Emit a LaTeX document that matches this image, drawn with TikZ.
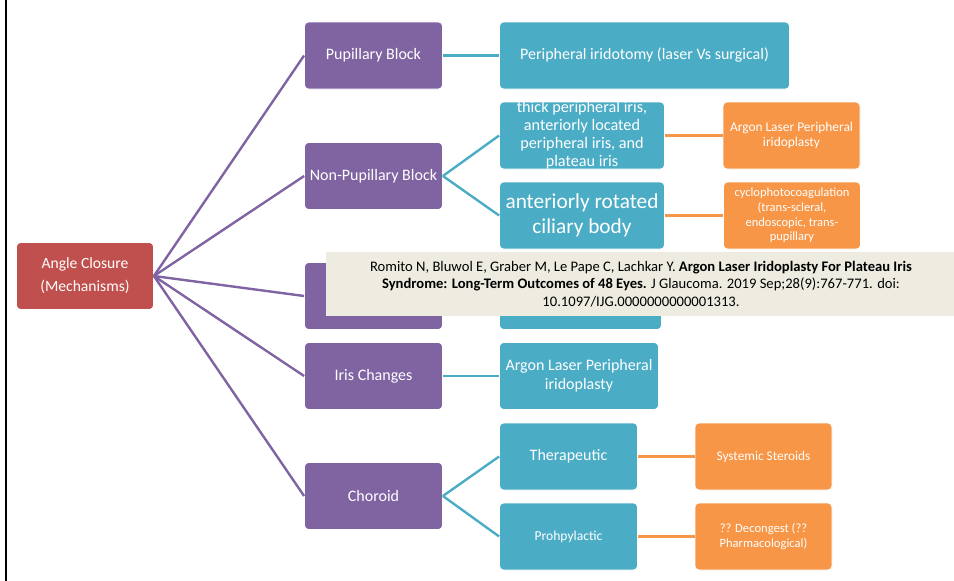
\documentclass[tikz,border=0pt]{standalone}
\usepackage{fontspec}
\setmainfont{Carlito}
\definecolor{rootred}{HTML}{C0504D}
\definecolor{mechpurple}{HTML}{8064A2}
\definecolor{treatteal}{HTML}{4BACC6}
\definecolor{optorange}{HTML}{F79646}
\definecolor{citetan}{HTML}{EEECE1}
\newcommand{\fs}[2]{\fontsize{#1}{#2}\selectfont}
\begin{document}
\begin{tikzpicture}[x=1pt, y=-1pt]
        \tikzset{Box/.style={shape=rectangle, rounded corners=4pt, draw=white, line width=0.8pt, text=white, align=center, minimum height=67pt, inner sep=2pt}}
        \tikzset{Root/.style={Box, fill=rootred, minimum width=137pt, font=\fs{15.6}{23}}}
        \tikzset{Mech/.style={Box, fill=mechpurple, minimum width=138pt, font=\fs{16}{19}}}
        \tikzset{Treat/.style={Box, fill=treatteal, font=\fs{16}{19}}}
        \tikzset{Opt/.style={Box, fill=optorange, minimum width=137pt, font=\fs{13.4}{14.5}}}
        \tikzset{PLine/.style={draw=mechpurple, line width=2.4pt}}
        \tikzset{TLine/.style={draw=treatteal, line width=2.4pt}}
        \tikzset{OLine/.style={draw=optorange, line width=2.4pt}}
        \useasboundingbox (0,0) rectangle (954,581);
        \draw[line width=2.3pt] (6,0) -- (6,581);

        % nodes
        \node[Root] (ac) at (85, 276) {Angle Closure\\(Mechanisms)};

        \node[Mech] (pb)  at (373.5, 55.5) {Pupillary Block};
        \node[Mech] (npb) at (373.5, 176)  {Non-Pupillary Block};
        \node[Mech] (m3)  at (373.5, 296)  {};
        \node[Mech] (ic)  at (373.5, 376)  {Iris Changes};
        \node[Mech] (ch)  at (373.5, 496)  {Choroid};

        \node[Treat, minimum width=290pt] (pi) at (644.5, 55.5) {Peripheral iridotomy (laser Vs surgical)};
        \node[Treat, minimum width=165pt, inner ysep=-1pt, font=\fs{16.2}{18}] (tpi) at (582, 135.5) {thick peripheral iris,\\anteriorly located\\peripheral iris, and\\plateau iris};
        \node[Treat, minimum width=165pt, font=\fs{21.3}{25}] (arc) at (582, 215.5) {anteriorly rotated\\ciliary body};
        \node[Treat, minimum width=162pt] (t3) at (580.5, 296) {};
        \node[Treat, minimum width=159pt] (alpi) at (579, 376) {Argon Laser Peripheral\\iridoplasty};
        \node[Treat, minimum width=138pt] (th) at (568.5, 456.5) {Therapeutic};
        \node[Treat, minimum width=138pt, font=\fs{13.6}{15}] (pp) at (568.5, 536.5) {Prohpylactic};

        \node[Opt] (alpo) at (791.5, 135.5) {Argon Laser Peripheral\\iridoplasty};
        \node[Opt, font=\fs{12.5}{14.7}] (cpc) at (792, 215.5) {cyclophotocoagulation\\(trans-scleral,\\endoscopic, trans-\\pupillary};
        \node[Opt, font=\fs{13.3}{14.5}] (ss) at (763.5, 456.5) {Systemic Steroids};
        \node[Opt, font=\fs{12.6}{14.5}] (dc) at (763.5, 536.5) {?? Decongest (??\\Pharmacological)};

        % lines
        \foreach \m in {pb, npb, m3, ic, ch}
            \draw[PLine] (ac.east) -- (\m.west);
        \draw[TLine] (pb) -- (pi);
        \draw[TLine] (npb.east) -- (tpi.west);
        \draw[TLine] (npb.east) -- (arc.west);
        \draw[TLine] (m3) -- (t3);
        \draw[TLine] (ic) -- (alpi);
        \draw[TLine] (ch.east) -- (th.west);
        \draw[TLine] (ch.east) -- (pp.west);
        \draw[OLine] (tpi) -- (alpo);
        \draw[OLine] (arc) -- (cpc);
        \draw[OLine] (th) -- (ss);
        \draw[OLine] (pp) -- (dc);

        % citation
        \node[shape=rectangle, fill=citetan, minimum width=628pt, minimum height=64pt, inner sep=0pt] (ref) at (640, 284) {};
        \node[align=center, font=\fs{14.6}{17.6}, inner sep=0pt] (reftext) at (641, 284) {Romito N, Bluwol E, Graber M, Le Pape C, Lachkar Y. \textbf{Argon Laser Iridoplasty For Plateau Iris}\\\textbf{Syndrome: Long-Term Outcomes of 48 Eyes.} J Glaucoma. 2019 Sep;28(9):767-771. doi:\\10.1097/IJG.0000000000001313.};
\end{tikzpicture}
\end{document}
